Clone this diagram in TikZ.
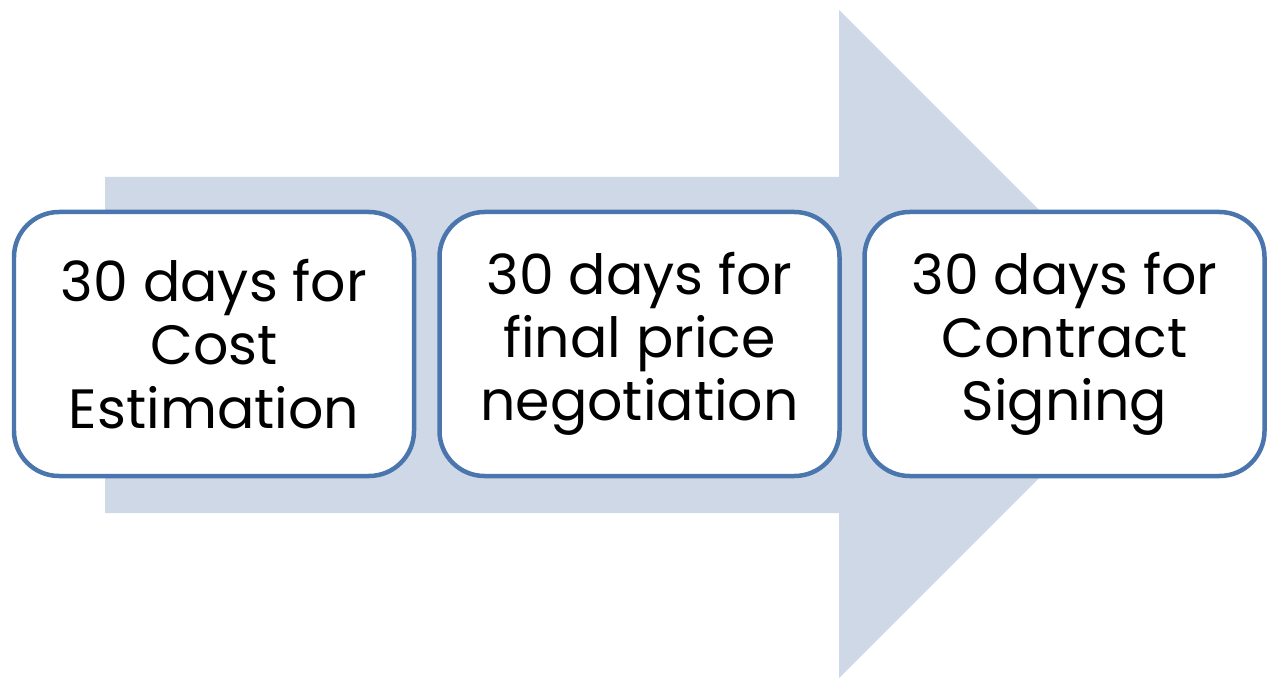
\documentclass[tikz,border=0pt]{standalone}
\usepackage{fontspec}
\setmainfont{Poppins}
\usepackage{xcolor}
\usepackage{tikz}
\usetikzlibrary{positioning}
\definecolor{arrowfill}{HTML}{CFD8E7}
\definecolor{boxline}{HTML}{4A76AD}

\begin{document}
\begin{tikzpicture}[
    stage/.style={draw=boxline, line width=0.09cm, fill=white, rounded corners=0.9cm,
        minimum width=8.0cm, minimum height=5.28cm, align=center,
        font=\fontsize{31.5}{36}\selectfont}]
    \useasboundingbox (0,0) rectangle (25.4,13.56);
    % big arrow behind the boxes
    \fill[arrowfill] (2.1,3.3) -- (2.1,10.02) -- (16.78,10.02) -- (16.78,13.36)
        -- (23.46,6.68) -- (16.78,0) -- (16.78,3.3) -- cycle;
    \node[stage] (cost) at (4.28,6.68) {30 days for\\Cost\\Estimation};
    \node[stage] (price) at (12.79,6.68) {30 days for\\final price\\negotiation};
    \node[stage] (sign) at (21.29,6.68) {30 days for\\Contract\\Signing};
\end{tikzpicture}
\end{document}
